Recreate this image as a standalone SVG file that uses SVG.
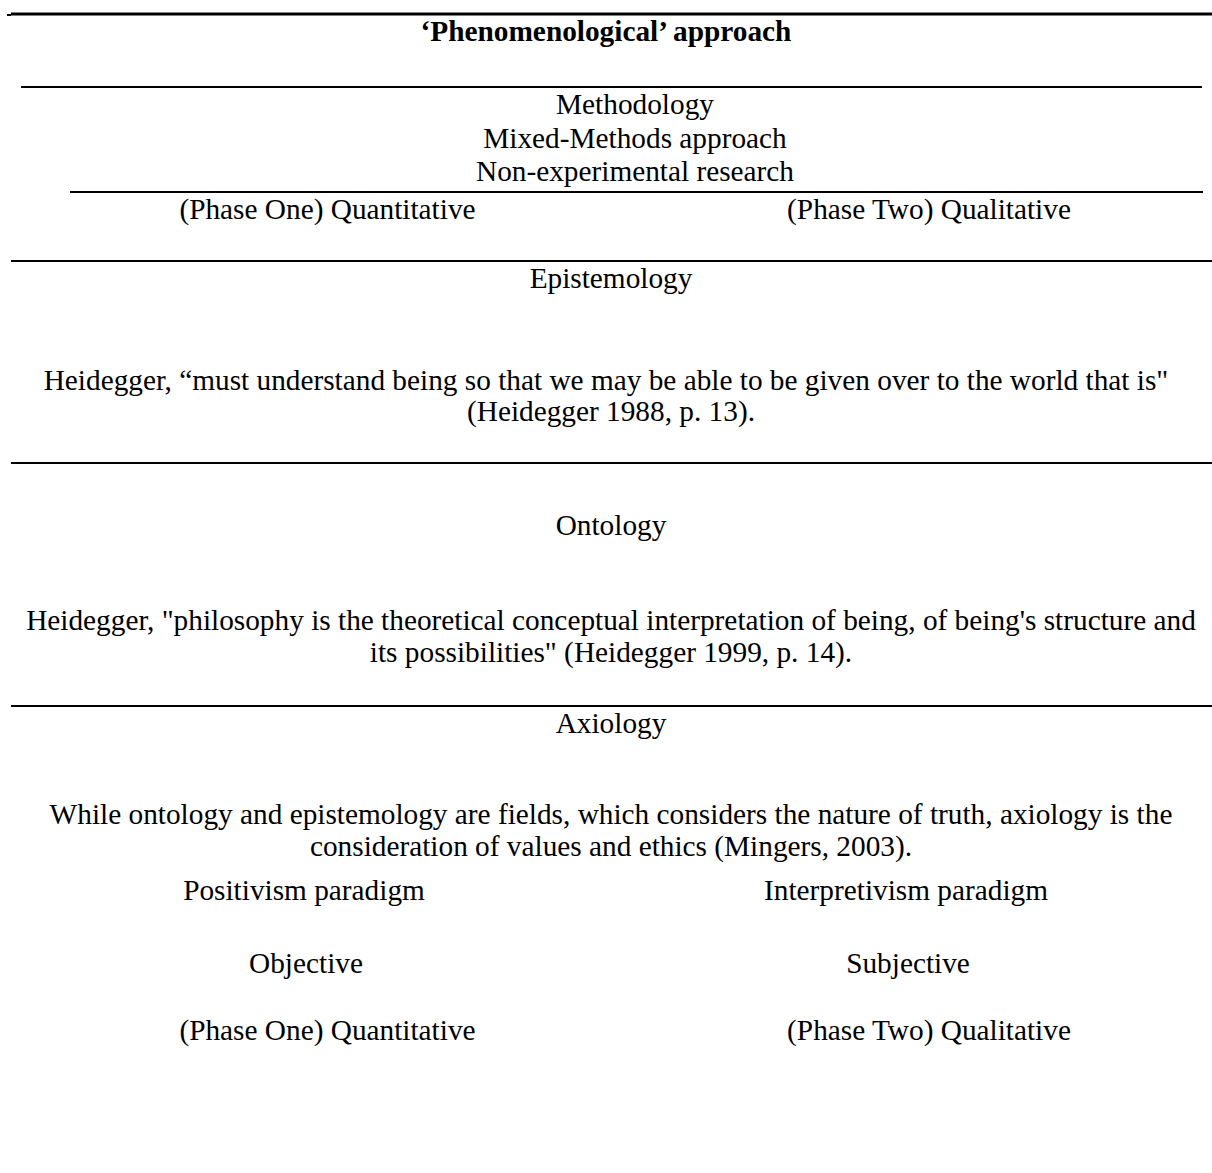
<svg xmlns="http://www.w3.org/2000/svg" width="1212" height="1173" viewBox="0 0 1212 1173">
<style>
text{font-family:"Liberation Serif","Times New Roman",serif;font-size:29.3px;fill:#000;text-anchor:middle}
.b{font-weight:bold}
line{stroke:#000}
</style>
<rect width="1212" height="1173" fill="#fff"/>
<g id="rules">
<line x1="11" y1="14" x2="1212" y2="14" stroke-width="3"/>
<line x1="7" y1="15" x2="11" y2="15" stroke-width="2"/>
<line x1="21" y1="87" x2="1202" y2="87" stroke-width="2"/>
<line x1="70" y1="192" x2="1203" y2="192" stroke-width="2"/>
<line x1="11" y1="261" x2="1212" y2="261" stroke-width="2"/>
<line x1="11" y1="463" x2="1212" y2="463" stroke-width="2"/>
<line x1="11" y1="706" x2="1212" y2="706" stroke-width="2"/>
</g>
<g id="title"><text class="b" x="606" y="41">‘Phenomenological’ approach</text></g>
<g id="methodology">
<text x="635" y="114">Methodology</text>
<text x="635" y="148">Mixed-Methods approach</text>
<text x="635" y="181">Non-experimental research</text>
</g>
<g id="phases1">
<text x="327.5" y="219">(Phase One) Quantitative</text>
<text x="929" y="219">(Phase Two) Qualitative</text>
</g>
<g id="epistemology">
<text x="611" y="288">Epistemology</text>
<text x="606" y="390">Heidegger, “must understand being so that we may be able to be given over to the world that is"</text>
<text x="611" y="421">(Heidegger 1988, p. 13).</text>
</g>
<g id="ontology">
<text x="611" y="535">Ontology</text>
<text x="611" y="630">Heidegger, "philosophy is the theoretical conceptual interpretation of being, of being's structure and</text>
<text x="611" y="662">its possibilities" (Heidegger 1999, p. 14).</text>
</g>
<g id="axiology">
<text x="611" y="733">Axiology</text>
<text x="611" y="824">While ontology and epistemology are fields, which considers the nature of truth, axiology is the</text>
<text x="611" y="856">consideration of values and ethics (Mingers, 2003).</text>
</g>
<g id="paradigms">
<text x="304" y="900">Positivism paradigm</text>
<text x="906" y="900">Interpretivism paradigm</text>
<text x="306" y="973">Objective</text>
<text x="908" y="973">Subjective</text>
<text x="327.5" y="1040">(Phase One) Quantitative</text>
<text x="929" y="1040">(Phase Two) Qualitative</text>
</g>
</svg>
